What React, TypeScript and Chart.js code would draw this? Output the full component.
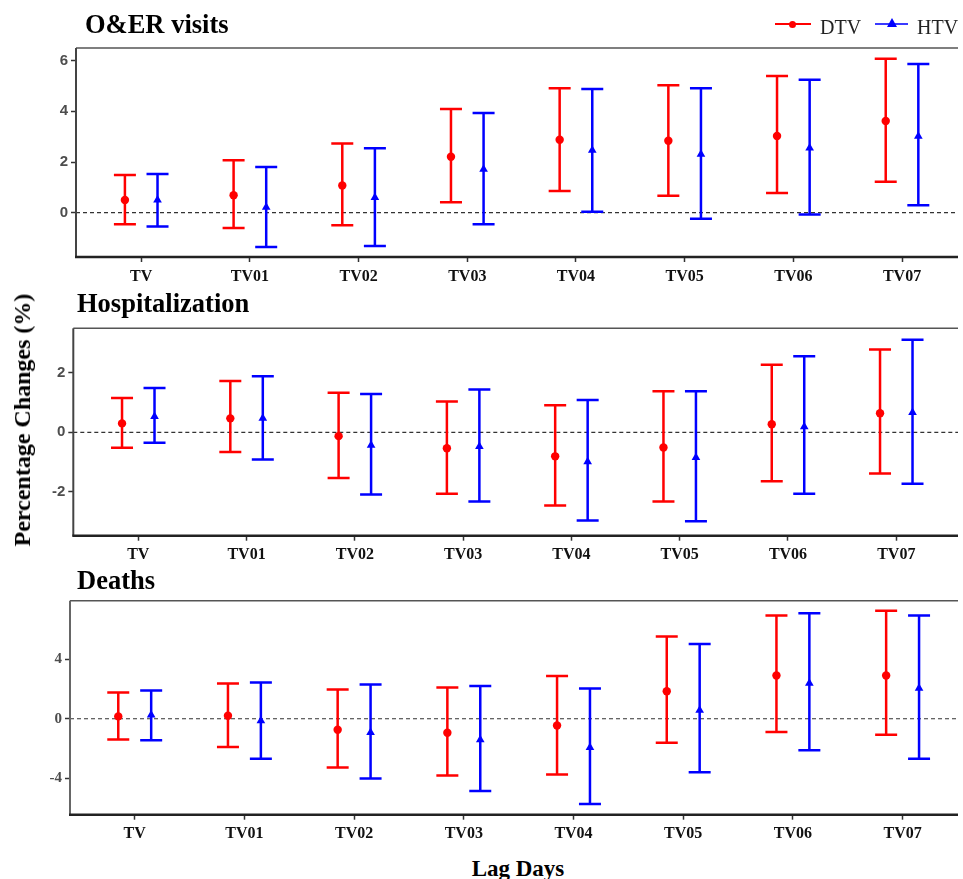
import React, { useEffect, useRef } from "react";
import { Chart, registerables } from "chart.js";

Chart.register(...registerables);

// ---------- DATA ----------
const categories = ["TV", "TV01", "TV02", "TV03", "TV04", "TV05", "TV06", "TV07"];

const oerDtvEst = [0.5, 0.69, 1.07, 2.21, 2.88, 2.84, 3.03, 3.62];
const oerDtvLo = [-0.46, -0.61, -0.5, 0.41, 0.86, 0.67, 0.78, 1.22];
const oerDtvHi = [1.49, 2.07, 2.73, 4.09, 4.91, 5.03, 5.39, 6.08];
const oerHtvEst = [0.5, 0.21, 0.6, 1.71, 2.46, 2.31, 2.55, 3.02];
const oerHtvLo = [-0.55, -1.36, -1.32, -0.46, 0.04, -0.24, -0.07, 0.29];
const oerHtvHi = [1.53, 1.8, 2.54, 3.93, 4.88, 4.91, 5.25, 5.87];

const hospDtvEst = [0.3, 0.47, -0.13, -0.54, -0.81, -0.51, 0.27, 0.64];
const hospDtvLo = [-0.52, -0.66, -1.54, -2.07, -2.47, -2.33, -1.65, -1.39];
const hospDtvHi = [1.16, 1.73, 1.33, 1.04, 0.91, 1.38, 2.28, 2.79];
const hospHtvEst = [0.53, 0.47, -0.44, -0.48, -0.99, -0.85, 0.19, 0.67];
const hospHtvLo = [-0.35, -0.92, -2.1, -2.33, -2.97, -3.0, -2.07, -1.73];
const hospHtvHi = [1.49, 1.89, 1.29, 1.44, 1.09, 1.38, 2.56, 3.12];

const deathDtvEst = [0.16, 0.2, -0.74, -0.94, -0.45, 1.85, 2.91, 2.91];
const deathDtvLo = [-1.39, -1.9, -3.28, -3.82, -3.75, -1.61, -0.89, -1.07];
const deathDtvHi = [1.77, 2.37, 1.97, 2.1, 2.88, 5.54, 6.95, 7.28];
const deathHtvEst = [0.25, -0.13, -0.92, -1.41, -1.94, 0.58, 2.39, 2.06];
const deathHtvLo = [-1.45, -2.7, -4.02, -4.87, -5.74, -3.6, -2.12, -2.7];
const deathHtvHi = [1.9, 2.44, 2.3, 2.21, 2.03, 5.03, 7.11, 6.95];

const oerYTicks = [0, 2, 4, 6];
const hospYTicks = [-2, 0, 2];
const deathYTicks = [-4, 0, 4];

const RED = "#FF0000";
const BLUE = "#0000FF";
const DODGE = 0.15;

type PanelCfg = {
  dtv: [number[], number[], number[]];
  htv: [number[], number[], number[]];
  yTicks: number[];
  yMin: number;
  yMax: number;
  xMin: number;
  xMax: number;
  top: number;
  h: number;
  padTop: number;
  xAxisH: number;
  yAxisW: number;
  yFont: any;
  yColor: string;
  leftColor: string;
};

const panels: PanelCfg[] = [
  {
    dtv: [oerDtvEst, oerDtvLo, oerDtvHi],
    htv: [oerHtvEst, oerHtvLo, oerHtvHi],
    yTicks: oerYTicks,
    yMin: -1.75,
    yMax: 6.5,
    xMin: -0.6,
    xMax: 7.515,
    top: 28,
    h: 267,
    padTop: 20,
    xAxisH: 38,
    yAxisW: 76,
    yFont: { family: "'Liberation Sans', Arial, sans-serif", size: 15, weight: "bold" },
    yColor: "#4d4d4d",
    leftColor: "#444",
  },
  {
    dtv: [hospDtvEst, hospDtvLo, hospDtvHi],
    htv: [hospHtvEst, hospHtvLo, hospHtvHi],
    yTicks: hospYTicks,
    yMin: -3.485,
    yMax: 3.505,
    xMin: -0.6,
    xMax: 7.57,
    top: 305,
    h: 265,
    padTop: 23.3,
    xAxisH: 34.3,
    yAxisW: 73.3,
    yFont: { family: "'Liberation Sans', Arial, sans-serif", size: 15, weight: "bold" },
    yColor: "#4d4d4d",
    leftColor: "#444",
  },
  {
    dtv: [deathDtvEst, deathDtvLo, deathDtvHi],
    htv: [deathHtvEst, deathHtvLo, deathHtvHi],
    yTicks: deathYTicks,
    yMin: -6.46,
    yMax: 7.95,
    xMin: -0.59,
    xMax: 7.505,
    top: 582,
    h: 268,
    padTop: 18.7,
    xAxisH: 35.3,
    yAxisW: 70,
    yFont: { family: "'Liberation Serif', 'Times New Roman', serif", size: 15, weight: "bold" },
    yColor: "#4d4d4d",
    leftColor: "#666",
  },
];

function Panel({ cfg }: { cfg: PanelCfg }) {
  const ref = useRef<HTMLCanvasElement | null>(null);
  useEffect(() => {
    if (!ref.current) return;
    const series = [
      { vals: cfg.dtv, off: -DODGE, color: RED },
      { vals: cfg.htv, off: DODGE, color: BLUE },
    ];
    const plugin = {
      id: "errbars",
      beforeDatasetsDraw(chart: any) {
        const { ctx, chartArea: ca } = chart;
        const xs = chart.scales.x;
        const ys = chart.scales.y;
        ctx.save();
        const y0 = ys.getPixelForValue(0);
        ctx.setLineDash([4, 3]);
        ctx.strokeStyle = "#333";
        ctx.lineWidth = 1.2;
        ctx.beginPath();
        ctx.moveTo(ca.left, y0);
        ctx.lineTo(ca.right, y0);
        ctx.stroke();
        ctx.setLineDash([]);
        ctx.lineWidth = 2.5;
        ctx.lineCap = "butt";
        for (const s of series) {
          ctx.strokeStyle = s.color;
          const [, lo, hi] = s.vals;
          for (let i = 0; i < lo.length; i++) {
            const px = xs.getPixelForValue(i + s.off);
            const pl = ys.getPixelForValue(lo[i]);
            const ph = ys.getPixelForValue(hi[i]);
            ctx.beginPath();
            ctx.moveTo(px, pl);
            ctx.lineTo(px, ph);
            ctx.moveTo(px - 11, pl);
            ctx.lineTo(px + 11, pl);
            ctx.moveTo(px - 11, ph);
            ctx.lineTo(px + 11, ph);
            ctx.stroke();
          }
        }
        ctx.restore();
      },
      afterDraw(chart: any) {
        const { ctx, chartArea: ca } = chart;
        ctx.save();
        ctx.strokeStyle = "#555";
        ctx.lineWidth = 1.5;
        ctx.beginPath();
        ctx.moveTo(ca.left, ca.top);
        ctx.lineTo(ca.right, ca.top);
        ctx.stroke();
        ctx.strokeStyle = cfg.leftColor;
        ctx.lineWidth = 2;
        ctx.beginPath();
        ctx.moveTo(ca.left, ca.top);
        ctx.lineTo(ca.left, ca.bottom);
        ctx.stroke();
        ctx.strokeStyle = "#222";
        ctx.lineWidth = 2.5;
        ctx.beginPath();
        ctx.moveTo(ca.left - 1, ca.bottom);
        ctx.lineTo(ca.right, ca.bottom);
        ctx.stroke();
        ctx.restore();
      },
    };
    const chart = new Chart(ref.current, {
      type: "scatter",
      data: {
        datasets: [
          {
            label: "DTV",
            data: cfg.dtv[0].map((v, i) => ({ x: i - DODGE, y: v })),
            pointStyle: "circle",
            pointRadius: 4.2,
            backgroundColor: RED,
            borderColor: RED,
            borderWidth: 0,
          },
          {
            label: "HTV",
            data: cfg.htv[0].map((v, i) => ({ x: i + DODGE, y: v })),
            pointStyle: "triangle",
            pointRadius: 5,
            backgroundColor: BLUE,
            borderColor: BLUE,
            borderWidth: 0,
          },
        ],
      },
      options: {
        responsive: false,
        animation: false,
        layout: { padding: { top: cfg.padTop, left: 0, right: 0, bottom: 0 } },
        plugins: { legend: { display: false }, tooltip: { enabled: false }, title: { display: false } },
        scales: {
          x: {
            type: "linear",
            min: cfg.xMin,
            max: cfg.xMax,
            border: { display: false },
            grid: { drawOnChartArea: false, drawTicks: true, tickLength: 5, color: "#333", tickWidth: 1.5 } as any,
            afterBuildTicks: (scale: any) => {
              scale.ticks = categories.map((_, i) => ({ value: i }));
            },
            afterFit: (scale: any) => {
              scale.height = cfg.xAxisH;
            },
            ticks: {
              padding: 5,
              color: "#111",
              font: { family: "'Liberation Serif', 'Times New Roman', serif", size: 16, weight: "bold" },
              maxRotation: 0,
              autoSkip: false,
              callback: (v: any) => categories[Math.round(v)] ?? "",
            },
          },
          y: {
            type: "linear",
            min: cfg.yMin,
            max: cfg.yMax,
            border: { display: false },
            grid: { drawOnChartArea: false, drawTicks: true, tickLength: 5, color: "#333", tickWidth: 1.5 } as any,
            afterBuildTicks: (scale: any) => {
              scale.ticks = cfg.yTicks.map((v) => ({ value: v }));
            },
            afterFit: (scale: any) => {
              scale.width = cfg.yAxisW;
            },
            ticks: {
              padding: 3,
              color: cfg.yColor,
              font: cfg.yFont,
              callback: (v: any) => String(v),
            },
          },
        },
      },
      plugins: [plugin],
    } as any);
    return () => chart.destroy();
  }, [cfg]);
  return (
    <canvas
      ref={ref}
      width={963}
      height={cfg.h}
      style={{ position: "absolute", left: 0, top: cfg.top, width: 963, height: cfg.h }}
    />
  );
}

const serif = "'Liberation Serif', 'Times New Roman', serif";

export default function App() {
  const titleStyle = (left: number, top: number, size: number): React.CSSProperties => ({
    position: "absolute",
    left,
    top,
    fontFamily: serif,
    fontWeight: "bold",
    fontSize: size,
    lineHeight: 1,
    color: "#000",
    whiteSpace: "nowrap",
  });
  return (
    <div style={{ position: "absolute", left: 0, top: 0, width: 963, height: 879, background: "#fff", overflow: "hidden" }}>
      {panels.map((p, i) => (
        <Panel key={i} cfg={p} />
      ))}
      <div style={titleStyle(85, 11, 26.5)}>O&amp;ER visits</div>
      <div style={titleStyle(77, 290, 26.5)}>Hospitalization</div>
      <div style={titleStyle(77, 567, 26.5)}>Deaths</div>
      <div
        style={{
          position: "absolute",
          left: 22,
          top: 420,
          transform: "translate(-50%, -50%) rotate(-90deg)",
          fontFamily: serif,
          fontWeight: "bold",
          fontSize: 24,
          lineHeight: 1,
          whiteSpace: "nowrap",
        }}
      >
        Percentage Changes (%)
      </div>
      <div
        style={{
          position: "absolute",
          left: 518,
          top: 868,
          transform: "translate(-50%, -50%)",
          fontFamily: serif,
          fontWeight: "bold",
          fontSize: 23,
          lineHeight: 1,
          whiteSpace: "nowrap",
        }}
      >
        Lag Days
      </div>
      {/* legend */}
      <div style={{ position: "absolute", left: 775, top: 23, width: 36, height: 2, background: RED }} />
      <div style={{ position: "absolute", left: 789, top: 20.5, width: 7, height: 7, borderRadius: "50%", background: RED }} />
      <div style={{ position: "absolute", left: 820, top: 17, fontFamily: serif, fontSize: 20, lineHeight: 1, color: "#222" }}>DTV</div>
      <div style={{ position: "absolute", left: 875, top: 23, width: 33, height: 2, background: "#3a3aff" }} />
      <div
        style={{
          position: "absolute",
          left: 887,
          top: 18,
          width: 0,
          height: 0,
          borderLeft: "5px solid transparent",
          borderRight: "5px solid transparent",
          borderBottom: "9px solid " + BLUE,
        }}
      />
      <div style={{ position: "absolute", left: 917, top: 17, fontFamily: serif, fontSize: 20, lineHeight: 1, color: "#222" }}>HTV</div>
    </div>
  );
}
